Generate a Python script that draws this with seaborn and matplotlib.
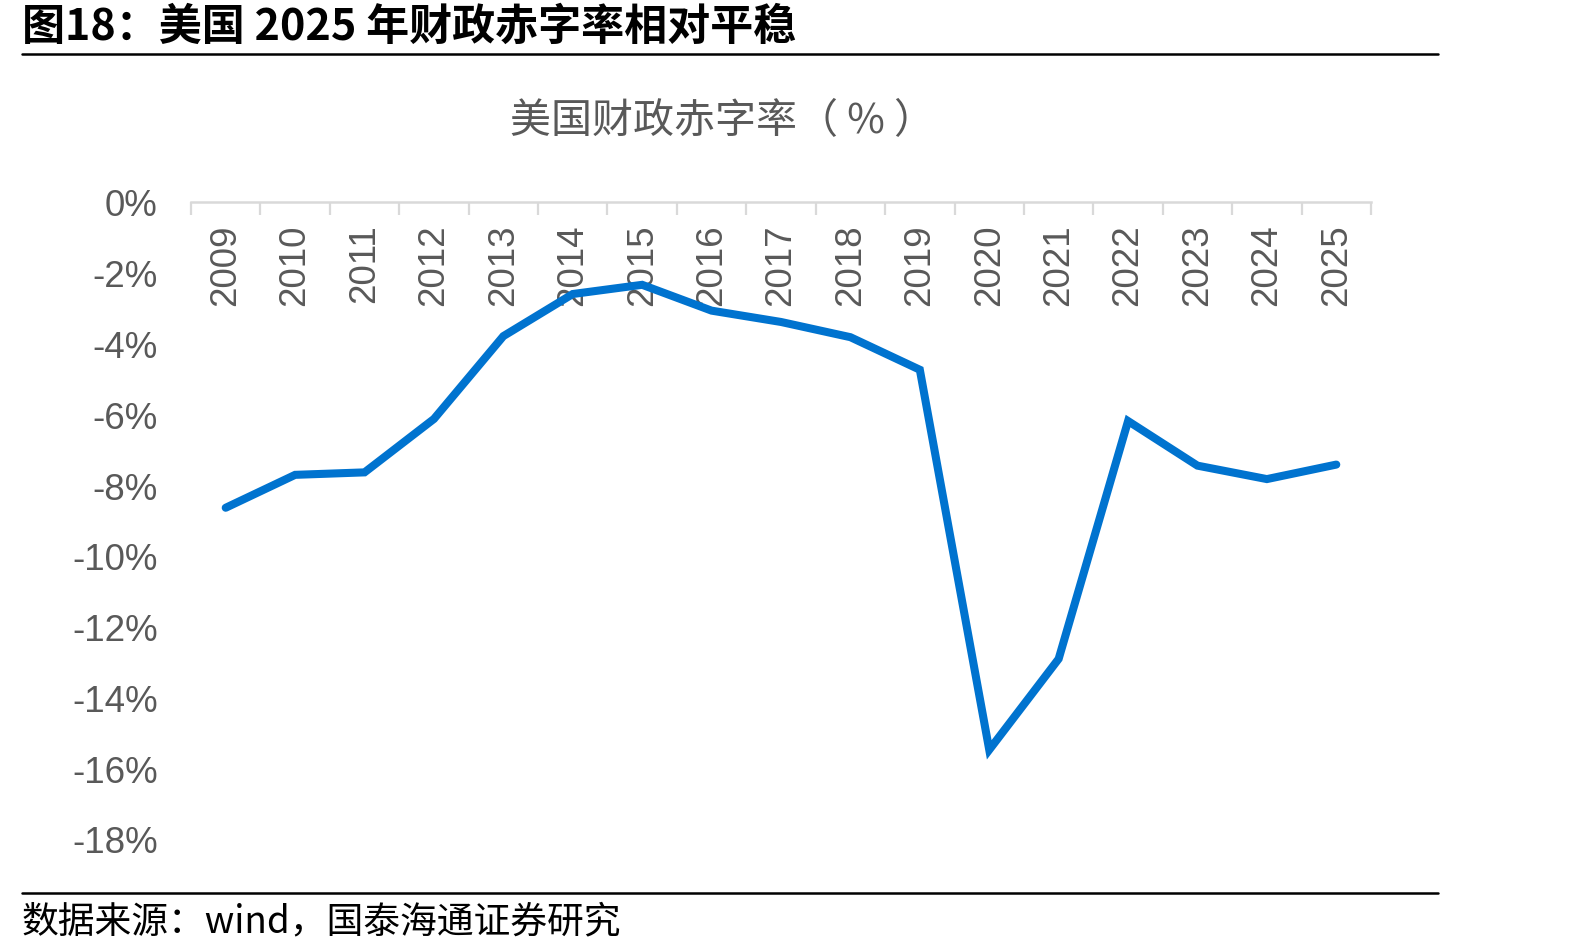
import numpy as np
import pandas as pd
import seaborn as sns
import matplotlib.pyplot as plt
from matplotlib.lines import Line2D

years = ['2009', '2010', '2011', '2012', '2013', '2014', '2015', '2016', '2017',
         '2018', '2019', '2020', '2021', '2022', '2023', '2024', '2025']
deficit = [-8.64, -7.71, -7.64, -6.13, -3.79, -2.60, -2.34, -3.07, -3.39,
           -3.82, -4.74, -15.48, -12.91, -6.19, -7.45, -7.83, -7.42]
ytick_vals = [0, -2, -4, -6, -8, -10, -12, -14, -16, -18]

header = '图18：美国 2025 年财政赤字率相对平稳'
chart_title = '美国财政赤字率（ % ）'
source = '数据来源：wind，国泰海通证券研究'

df = pd.DataFrame({'pos': np.arange(len(years)), 'deficit': deficit})

sns.set_theme(style="white")
plt.rcParams['font.family'] = ['Liberation Sans', 'Noto Sans CJK SC', 'DejaVu Sans']
cjk = ['Noto Sans CJK SC', 'DejaVu Sans']
grey = '#595959'

fig = plt.figure(figsize=(15.94, 9.53), dpi=100)
ax = fig.add_axes([191 / 1594, 1 - 840 / 953, (1371 - 191) / 1594, (840 - 203) / 953])

sns.lineplot(data=df, x='pos', y='deficit', ax=ax, color='#0073CF', linewidth=5.8,
             solid_capstyle='round', solid_joinstyle='miter')

ax.set_xlim(-0.5, len(years) - 0.5)
ax.set_ylim(-18, 0)
ax.set_xlabel('')
ax.set_ylabel('')

# y axis: labels only
ax.set_yticks(ytick_vals)
ax.set_yticklabels([f'{v}%' for v in ytick_vals])
ax.tick_params(axis='y', length=0, pad=24, labelsize=26.5, labelcolor=grey)

# category axis sits at the top (0%), labels hang downward into the plot
ax.xaxis.tick_top()
ax.set_xticks(df['pos'])
ax.set_xticklabels(years, rotation=90)
ax.set_xticks(np.arange(-0.5, len(years)), minor=True)
ax.tick_params(axis='x', which='major', length=0, pad=-15.5, labelsize=26.5,
               labelcolor=grey, top=True, bottom=False, labeltop=True, labelbottom=False)
ax.tick_params(axis='x', which='minor', direction='in', length=9, width=1.6,
               color='#d9d9d9', top=True, bottom=False)
for lab in ax.get_xticklabels():
    lab.set_va('top')

for side in ['left', 'right', 'bottom']:
    ax.spines[side].set_visible(False)
ax.spines['top'].set_color('#d9d9d9')
ax.spines['top'].set_linewidth(1.8)

fig.text(723 / 1594, 1 - 122 / 953, chart_title, ha='center', va='center',
         fontsize=29.5, color=grey, family=cjk)
fig.text(22 / 1594, 1 - 27 / 953, header, ha='left', va='center',
         fontsize=31, fontweight='bold', color='black', family=cjk)
fig.text(22 / 1594, 1 - 922 / 953, source, ha='left', va='center',
         fontsize=26.5, color='black', family=cjk)

fig.add_artist(Line2D([22 / 1594, 1438 / 1594], [1 - 55 / 953, 1 - 55 / 953],
                      color='black', linewidth=1.8, transform=fig.transFigure))
fig.add_artist(Line2D([22 / 1594, 1438 / 1594], [1 - 894 / 953, 1 - 894 / 953],
                      color='black', linewidth=1.8, transform=fig.transFigure))

fig.savefig('out.png', dpi=100, facecolor='white')
